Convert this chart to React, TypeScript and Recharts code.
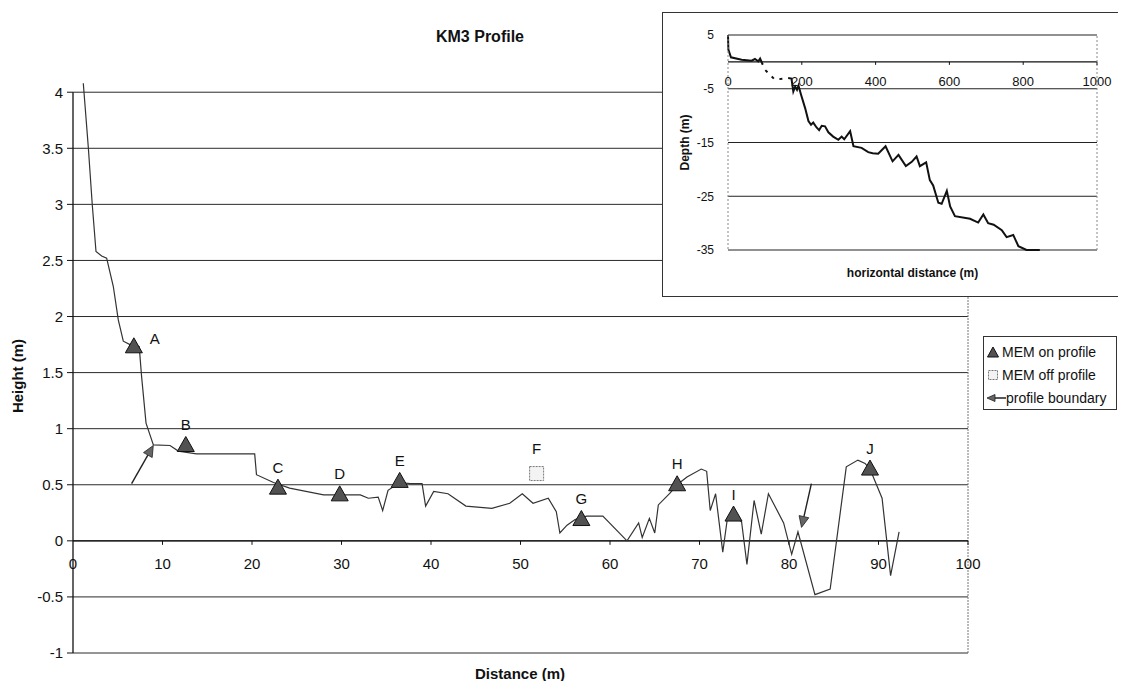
import React from 'react';
import { ComposedChart, LineChart, Line, Scatter, XAxis, YAxis, CartesianGrid, ReferenceLine } from 'recharts';

// main profile
const profileDistance = [
  1.15, 1.71, 2.16, 2.57, 3.2, 3.76, 4.5, 5.06, 5.62, 6.37, 7.4, 7.67, 8.16, 8.98, 10.84, 11.77, 13.8, 20.3, 20.5,
  22.4, 24.2, 28, 32.1, 33, 34.1, 34.6, 35.2, 36.5, 37.7, 39, 39.4, 40.3, 41.9, 43.9, 46.8, 48.8, 50.2, 51.4, 53.1,
  54.0, 54.4, 55.2, 56.1, 57.4, 59.2, 61.9, 63.2, 63.6, 64.4, 65.0, 65.4, 66.7, 67.5, 68.6, 70.2, 70.8, 71.2, 71.8,
  72.6, 73.1, 73.8, 74.7, 75.3, 76.1, 76.9, 77.7, 79.4, 80.3, 81.0, 82.9, 84.6, 86.4, 87.7, 88.5, 89.05, 90.4, 91.35,
  92.3,
];
const profileHeight = [
  4.08, 3.51, 2.99, 2.58, 2.54, 2.52, 2.27, 1.97, 1.78, 1.75, 1.73, 1.46, 1.05, 0.855, 0.85, 0.8, 0.775, 0.775, 0.59,
  0.52, 0.47, 0.41, 0.41, 0.38, 0.39, 0.27, 0.45, 0.52, 0.51, 0.51, 0.31, 0.44, 0.42, 0.31, 0.29, 0.335, 0.42, 0.335,
  0.38, 0.26, 0.07, 0.14, 0.19, 0.22, 0.22, 0.0, 0.16, 0.03, 0.2, 0.07, 0.32, 0.425, 0.5, 0.57, 0.64, 0.62, 0.27, 0.42,
  -0.1, 0.19, 0.23, 0.17, -0.21, 0.36, 0.06, 0.42, 0.16, -0.12, 0.08, -0.48, -0.43, 0.66, 0.72, 0.69, 0.64, 0.38, -0.31,
  0.08,
];

// MEM stations
const memNames = ['A', 'B', 'C', 'D', 'E', 'G', 'H', 'I', 'J'];
const memDistance = [6.8, 12.6, 22.9, 29.8, 36.5, 56.8, 67.5, 73.8, 89.05];
const memHeight = [1.73, 0.85, 0.47, 0.41, 0.53, 0.19, 0.5, 0.23, 0.64];

const offNames = ['F'];
const offDistance = [51.8];
const offHeight = [0.6];

// profile boundary arrows (tail -> head)
const boundaryTailX = [6.55, 82.5];
const boundaryTailY = [0.51, 0.51];
const boundaryHeadX = [8.97, 81.4];
const boundaryHeadY = [0.85, 0.12];

const xTicks = [0, 10, 20, 30, 40, 50, 60, 70, 80, 90, 100];
const yTicks = [-1, -0.5, 0, 0.5, 1, 1.5, 2, 2.5, 3, 3.5, 4];

// inset: offshore profile
const shoreDistance = [0, 1, 8, 37, 64, 73, 82, 87, 91];
const shoreDepth = [5, 2.27, 0.85, 0.41, 0.22, 0.53, 0.1, 0.6, -0.02];
const gapDistance = [91, 100, 127, 154, 163];
const gapDepth = [-0.02, -1.45, -3.3, -3.1, -3.0];
const seaDistance = [
  163, 172, 177, 182, 187, 191, 198, 209, 218, 225, 231, 240, 247, 254, 263, 272, 285, 299, 308, 315, 331, 340, 362,
  380, 392, 407, 427, 446, 462, 482, 498, 511, 520, 537, 547, 556, 570, 579, 593, 602, 615, 656, 678, 692, 705, 720,
  742, 755, 773, 787, 809, 845,
];
const seaDepth = [
  -3.0, -3.1, -5.5, -4.6, -5.2, -4.4, -6.1, -8.6, -11.0, -11.7, -11.3, -12.2, -12.7, -11.9, -12.0, -13.1, -13.9, -14.5,
  -13.9, -14.4, -12.9, -15.7, -16.0, -16.8, -17.0, -17.1, -15.7, -18.5, -17.3, -19.4, -18.6, -17.6, -19.4, -18.7, -22.0,
  -23.0, -26.2, -26.4, -24.0, -26.9, -28.7, -29.2, -29.9, -28.4, -30.0, -30.3, -31.3, -32.6, -32.2, -34.3, -35.0, -35.0,
];
const insetXTicks = [0, 200, 400, 600, 800, 1000];
const insetYTicks = [-35, -25, -15, -5, 5];

const FONT = '"Liberation Sans", Arial, Helvetica, sans-serif';
const W = 1110;
const H = 673;
const PLOT_TOP = 73;
const PLOT_BOTTOM = 645;
const Y_MIN = -1;
const Y_MAX = 4.1;

const INSET_W = 458;
const INSET_H = 283;
const INSET_TOP = 22;
const INSET_BOTTOM = 237;

const zip = (xs: number[], ys: number[]) => xs.map((x, i) => ({ x, y: ys[i] }));
const profile = zip(profileDistance, profileHeight);
const mem = memNames.map((name, i) => ({ name, x: memDistance[i], y: memHeight[i] }));
const off = offNames.map((name, i) => ({ name, x: offDistance[i], y: offHeight[i] }));
const shore = zip(shoreDistance, shoreDepth);
const gap = zip(gapDistance, gapDepth);
const sea = zip(seaDistance, seaDepth);

function MainXTick({ x, y, payload }: any) {
  const zeroY = y - ((PLOT_BOTTOM - PLOT_TOP) * (0 - Y_MIN)) / (Y_MAX - Y_MIN);
  return (
    <g>
      {payload.value !== 0 && <line x1={x} x2={x} y1={zeroY} y2={zeroY + 4} stroke="#111" />}
      <text x={x} y={zeroY + 23} textAnchor="middle" dominantBaseline="central" fontSize={15} fontFamily={FONT} fill="#111">
        {payload.value}
      </text>
    </g>
  );
}

function InsetXTick({ x, y, payload }: any) {
  const zeroY = y - ((INSET_BOTTOM - INSET_TOP) * 35) / 40;
  return (
    <g>
      {payload.value !== 0 && <line x1={x} x2={x} y1={zeroY} y2={zeroY + 3} stroke="#111" />}
      <text x={x} y={zeroY + 20} textAnchor="middle" dominantBaseline="central" fontSize={13} fontFamily={FONT} fill="#111">
        {payload.value}
      </text>
    </g>
  );
}

function Triangle({ cx, cy, payload }: any) {
  const isA = payload.name === 'A';
  return (
    <g>
      <polygon
        points={`${cx},${cy - 9} ${cx - 8.5},${cy + 6} ${cx + 8.5},${cy + 6}`}
        fill="#525252"
        stroke="#111"
        strokeWidth={1}
      />
      <text
        x={isA ? cx + 21 : cx}
        y={isA ? cy - 8 : cy - 21}
        textAnchor="middle"
        dominantBaseline="central"
        fontSize={15}
        fontFamily={FONT}
        fill="#111"
      >
        {payload.name}
      </text>
    </g>
  );
}

function OffSquare({ cx, cy, payload }: any) {
  return (
    <g>
      <rect x={cx - 7} y={cy - 7} width={14} height={14} fill="#f3f3f3" stroke="#777" strokeDasharray="2 1" />
      <text x={cx} y={cy - 25} textAnchor="middle" dominantBaseline="central" fontSize={15} fontFamily={FONT} fill="#111">
        {payload.name}
      </text>
    </g>
  );
}

function BoundaryArrow({ x1, y1, x2, y2 }: any) {
  const ang = Math.atan2(y2 - y1, x2 - x1);
  const len = 11;
  const half = 5;
  const bx = x2 - len * Math.cos(ang);
  const by = y2 - len * Math.sin(ang);
  const px = -Math.sin(ang) * half;
  const py = Math.cos(ang) * half;
  return (
    <g>
      <line x1={x1} y1={y1} x2={bx} y2={by} stroke="#222" strokeWidth={1.4} />
      <polygon points={`${x2},${y2} ${bx + px},${by + py} ${bx - px},${by - py}`} fill="#666" stroke="#222" strokeWidth={0.8} />
    </g>
  );
}

function LegendBox() {
  const row = { display: 'flex', alignItems: 'center', height: 23, whiteSpace: 'nowrap' as const };
  return (
    <div
      style={{
        position: 'absolute',
        left: 975,
        top: 328,
        width: 134,
        height: 74,
        boxSizing: 'border-box',
        border: '1px solid #333',
        background: '#fff',
        padding: '3px 0 0 2px',
        fontFamily: FONT,
        fontSize: 14,
        color: '#111',
      }}
    >
      <div style={row}>
        <svg width={14} height={14} style={{ marginRight: 2 }}>
          <polygon points="7,2 12.5,12 1.5,12" fill="#525252" stroke="#111" />
        </svg>
        MEM on profile
      </div>
      <div style={row}>
        <svg width={14} height={14} style={{ marginRight: 2 }}>
          <rect x={2.5} y={2.5} width={9} height={9} fill="#f3f3f3" stroke="#777" strokeDasharray="2 1" />
        </svg>
        MEM off profile
      </div>
      <div style={row}>
        <svg width={20} height={14} style={{ marginRight: 0 }}>
          <line x1={8} y1={7} x2={20} y2={7} stroke="#111" strokeWidth={1.4} />
          <polygon points="1,7 9,3.5 9,10.5" fill="#666" stroke="#222" strokeWidth={0.8} />
        </svg>
        profile boundary
      </div>
    </div>
  );
}

function Inset() {
  return (
    <div
      style={{
        position: 'absolute',
        left: 654,
        top: 4,
        width: INSET_W + 2,
        height: INSET_H + 2,
        border: '1px solid #333',
        boxSizing: 'border-box',
        background: '#fff',
      }}
    >
      <LineChart width={INSET_W} height={INSET_H} margin={{ top: INSET_TOP, right: INSET_W - 434, bottom: INSET_H - INSET_BOTTOM - 2, left: 25 }}>
        <CartesianGrid vertical={false} stroke="#222" horizontalValues={insetYTicks} />
        <XAxis
          type="number"
          dataKey="x"
          domain={[0, 1000]}
          ticks={insetXTicks}
          interval={0}
          axisLine={false}
          tickLine={false}
          tickSize={0}
          tickMargin={0}
          height={2}
          tick={<InsetXTick />}
          label={(p: any) => (
            <text x={249.5} y={260} textAnchor="middle" dominantBaseline="central" fontSize={12} fontWeight="bold" fontFamily={FONT} fill="#111">
              horizontal distance (m)
            </text>
          )}
        />
        <YAxis
          type="number"
          dataKey="y"
          domain={[-35, 5]}
          ticks={insetYTicks}
          interval={0}
          width={40}
          axisLine={{ stroke: '#888', strokeDasharray: '2 2' }}
          tickLine={false}
          tickMargin={8}
          tick={{ fontSize: 12, fontFamily: FONT, fill: '#111' }}
          label={(p: any) => (
            <text
              x={22}
              y={129.5}
              transform={`rotate(-90 22 129.5)`}
              textAnchor="middle"
              dominantBaseline="central"
              fontSize={12}
              fontWeight="bold"
              fontFamily={FONT}
              fill="#111"
            >
              Depth (m)
            </text>
          )}
        />
        <ReferenceLine y={0} stroke="#111" strokeWidth={1.2} />
        <ReferenceLine x={1000} stroke="#888" strokeDasharray="2 2" />
        <Line data={shore} dataKey="y" stroke="#111" strokeWidth={2} dot={false} isAnimationActive={false} />
        <Line data={gap} dataKey="y" stroke="#111" strokeWidth={2} strokeDasharray="3 6" dot={false} isAnimationActive={false} />
        <Line data={sea} dataKey="y" stroke="#111" strokeWidth={2} dot={false} isAnimationActive={false} />
      </LineChart>
    </div>
  );
}

export default function App() {
  return (
    <div style={{ position: 'relative', width: W, height: H, fontFamily: FONT }}>
      <ComposedChart width={W} height={H} margin={{ top: PLOT_TOP, right: 150, bottom: H - PLOT_BOTTOM - 2, left: 15 }}>
        <CartesianGrid vertical={false} stroke="#2a2a2a" horizontalValues={yTicks} />
        <XAxis
          type="number"
          dataKey="x"
          domain={[0, 100]}
          ticks={xTicks}
          interval={0}
          axisLine={false}
          tickLine={false}
          tickSize={0}
          tickMargin={0}
          height={2}
          tick={<MainXTick />}
          label={(p: any) => (
            <text x={512} y={665} textAnchor="middle" dominantBaseline="central" fontSize={15} fontWeight="bold" fontFamily={FONT} fill="#111">
              Distance (m)
            </text>
          )}
        />
        <YAxis
          type="number"
          dataKey="y"
          domain={[Y_MIN, Y_MAX]}
          allowDataOverflow
          ticks={yTicks}
          interval={0}
          width={50}
          axisLine={false}
          tickLine={{ stroke: '#111' }}
          tickSize={6}
          tickMargin={4}
          tick={{ fontSize: 15, fontFamily: FONT, fill: '#111' }}
          label={(p: any) => (
            <text
              x={9}
              y={368}
              transform="rotate(-90 9 368)"
              textAnchor="middle"
              dominantBaseline="central"
              fontSize={15}
              fontWeight="bold"
              fontFamily={FONT}
              fill="#111"
            >
              Height (m)
            </text>
          )}
        />
        <ReferenceLine segment={[{ x: 0, y: -1 }, { x: 0, y: 4 }]} stroke="#111" strokeWidth={1.3} />
        <ReferenceLine segment={[{ x: 100, y: -1 }, { x: 100, y: 4 }]} stroke="#777" strokeDasharray="2 1" />
        <ReferenceLine y={0} stroke="#111" strokeWidth={1.3} />
        <Line data={profile} dataKey="y" stroke="#333" strokeWidth={1.2} dot={false} isAnimationActive={false} />
        {boundaryTailX.map((tx, i) => (
          <ReferenceLine
            key={i}
            segment={[
              { x: tx, y: boundaryTailY[i] },
              { x: boundaryHeadX[i], y: boundaryHeadY[i] },
            ]}
            shape={BoundaryArrow}
          />
        ))}
        <Scatter data={mem} dataKey="y" shape={Triangle} isAnimationActive={false} />
        <Scatter data={off} dataKey="y" shape={OffSquare} isAnimationActive={false} />
      </ComposedChart>
      <div
        style={{
          position: 'absolute',
          left: 372,
          top: 20,
          width: 200,
          textAlign: 'center',
          fontSize: 16,
          fontWeight: 'bold',
          lineHeight: '18px',
          color: '#111',
        }}
      >
        KM3 Profile
      </div>
      <LegendBox />
      <Inset />
    </div>
  );
}
